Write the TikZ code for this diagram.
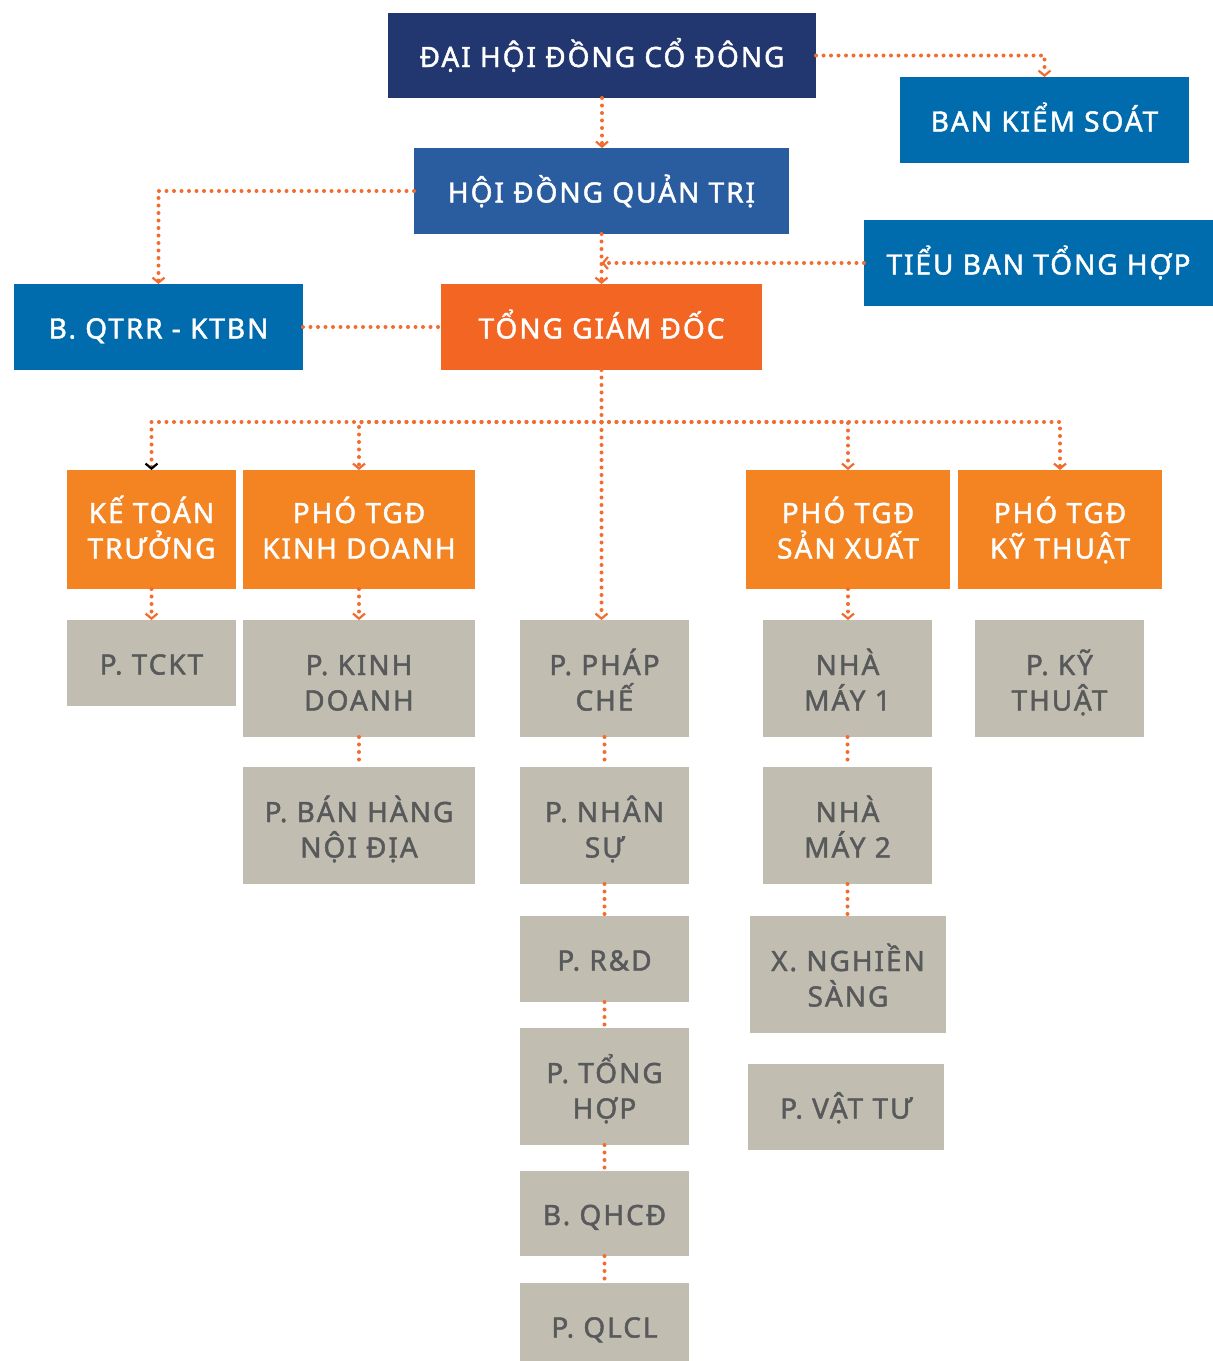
\documentclass[tikz,border=0pt]{standalone}
\usepackage{fontspec}
\usetikzlibrary{arrows.meta}
\newfontfamily\boxfont{Noto Sans}[LetterSpace=7, FakeBold=1.6]
\definecolor{navy}{HTML}{22366F}
\definecolor{midblue}{HTML}{2A5CA0}
\definecolor{cblue}{HTML}{006BAD}
\definecolor{orgA}{HTML}{F26522}
\definecolor{orgB}{HTML}{F48322}
\definecolor{grayb}{HTML}{C1BDB1}
\definecolor{grayt}{HTML}{58595B}
\definecolor{dotc}{HTML}{F26B2F}
\tikzset{
  box/.style={rectangle, inner sep=0pt, outer sep=0pt, anchor=north west, align=center,
    font=\boxfont\fontsize{28}{35.5}\selectfont},
  oneline/.style={text height=23pt, text depth=0pt},
  twoorg/.style={text height=58pt, text depth=0pt},
  twogray/.style={text height=64pt, text depth=0pt},
  navybox/.style={box, oneline, fill=navy, text=white},
  hdbox/.style={box, oneline, fill=midblue, text=white},
  bluebox/.style={box, oneline, fill=cblue, text=white},
  tgdbox/.style={box, oneline, fill=orgA, text=white},
  orgbox/.style={box, twoorg, fill=orgB, text=white},
  graybox/.style={box, oneline, fill=grayb, text=grayt},
  graybox2/.style={box, twogray, fill=grayb, text=grayt},
  dotline/.style={draw=dotc, line width=4pt, line cap=round, dash pattern=on 0pt off 7.5pt},
  tip/.style={-{Straight Barb[length=5pt,width=12pt,line width=2.2pt,#1]}},
  tip/.default={dotc}
}
\begin{document}
\begin{tikzpicture}[x=1pt,y=-1pt]
\useasboundingbox (0,0) rectangle (1213,1361);
% top levels
\node[navybox, minimum width=428pt, minimum height=85pt] (dh) at (388,13) {ĐẠI HỘI ĐỒNG CỔ ĐÔNG};
\node[bluebox, minimum width=289pt, minimum height=86pt] (bks) at (900,77) {BAN KIỂM SOÁT};
\node[hdbox, minimum width=375pt, minimum height=86pt] (hd) at (414,148) {HỘI ĐỒNG QUẢN TRỊ};
\node[bluebox, minimum width=349pt, minimum height=86pt] (tb) at (864,220) {TIỂU BAN TỔNG HỢP};
\node[bluebox, minimum width=289pt, minimum height=86pt] (qt) at (14,284) {B. QTRR - KTBN};
\node[tgdbox, minimum width=321pt, minimum height=86pt] (tg) at (441,284) {TỔNG GIÁM ĐỐC};
% second level
\node[orgbox, minimum width=169pt, minimum height=119pt] (ktt) at (67,470) {KẾ TOÁN\\TRƯỞNG};
\node[orgbox, minimum width=232pt, minimum height=119pt] (pkd) at (243,470) {PHÓ TGĐ\\KINH DOANH};
\node[orgbox, minimum width=204pt, minimum height=119pt] (psx) at (746,470) {PHÓ TGĐ\\SẢN XUẤT};
\node[orgbox, minimum width=204pt, minimum height=119pt] (pkt) at (958,470) {PHÓ TGĐ\\KỸ THUẬT};
% gray boxes
\node[graybox, minimum width=169pt, minimum height=86pt] (tckt) at (67,620) {P. TCKT};
\node[graybox2, minimum width=232pt, minimum height=117pt] (kd) at (243,620) {P. KINH\\DOANH};
\node[graybox2, minimum width=232pt, minimum height=117pt] (bh) at (243,767) {P. BÁN HÀNG\\NỘI ĐỊA};
\node[graybox2, minimum width=169pt, minimum height=117pt] (pc) at (520,620) {P. PHÁP\\CHẾ};
\node[graybox2, minimum width=169pt, minimum height=117pt] (ns) at (520,767) {P. NHÂN\\SỰ};
\node[graybox, minimum width=169pt, minimum height=86pt] (rd) at (520,916) {P. R\&D};
\node[graybox2, minimum width=169pt, minimum height=117pt] (th) at (520,1028) {P. TỔNG\\HỢP};
\node[graybox, minimum width=169pt, minimum height=85pt] (qh) at (520,1171) {B. QHCĐ};
\node[graybox, minimum width=169pt, minimum height=86pt] (ql) at (520,1283) {P. QLCL};
\node[graybox2, minimum width=169pt, minimum height=117pt] (nm1) at (763,620) {NHÀ\\MÁY 1};
\node[graybox2, minimum width=169pt, minimum height=117pt] (nm2) at (763,767) {NHÀ\\MÁY 2};
\node[graybox2, minimum width=196pt, minimum height=117pt] (xn) at (750,916) {X. NGHIỀN\\SÀNG};
\node[graybox, minimum width=196pt, minimum height=86pt] (vt) at (748,1064) {P. VẬT TƯ};
\node[graybox2, minimum width=169pt, minimum height=117pt] (kt) at (975,620) {P. KỸ\\THUẬT};
% connectors
\draw[dotline, tip] (dh.east) -| (bks.north);
\draw[dotline, tip] (dh.south) -- (dh.south |- hd.north);
\draw[dotline, tip] (hd.west) -| (qt.north);
\draw[dotline, tip] (hd.south) -- (hd.south |- tg.north);
\draw[dotline, tip] (tb.west) -- (tb.west -| tg.north);
\draw[dotline] (qt.east) -- (tg.west);
\coordinate (bus) at (601.5,422);
\draw[dotline, tip] (tg.south) -- (tg.south |- pc.north);
\draw[dotline, tip=black] (bus) -| (ktt.north);
\draw[dotline, tip] (bus) -| (pkd.north);
\draw[dotline, tip] (bus) -| (psx.north);
\draw[dotline, tip] (bus) -| (pkt.north);
\draw[dotline, tip] (ktt.south) -- (tckt.north);
\draw[dotline, tip] (pkd.south) -- (kd.north);
\draw[dotline, tip] (psx.south) -- (psx.south |- nm1.north);
\draw[dotline] (kd.south) -- (bh.north);
\draw[dotline] (pc.south) -- (ns.north);
\draw[dotline] (ns.south) -- (rd.north);
\draw[dotline] (rd.south) -- (th.north);
\draw[dotline] (th.south) -- (qh.north);
\draw[dotline] (qh.south) -- (ql.north);
\draw[dotline] (nm1.south) -- (nm2.north);
\draw[dotline] (nm2.south) -- (nm2.south |- xn.north);
\end{tikzpicture}
\end{document}
